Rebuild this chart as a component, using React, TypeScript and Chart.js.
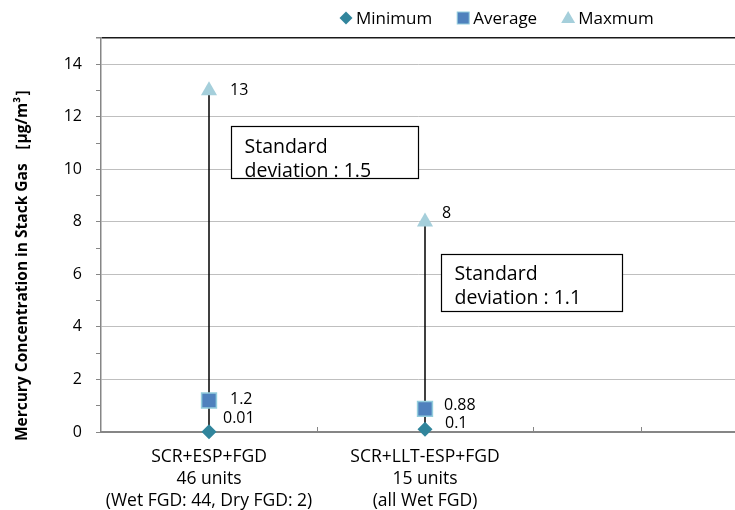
import React, { useEffect, useRef } from 'react';
import { Chart, registerables } from 'chart.js';

Chart.register(...registerables);

// ---- data ----
const categoryPositions = [1, 3];
const categoryLabels = [
  ['SCR+ESP+FGD', '46 units', '(Wet FGD: 44, Dry FGD: 2)'],
  ['SCR+LLT-ESP+FGD', '15 units', '(all Wet FGD)'],
];
const minimumValues = [0.01, 0.1];
const averageValues = [1.2, 0.88];
const maximumValues = [13, 8];
const stdDeviationValues = ['1.5', '1.1'];
const yTickLabels = [0, 2, 4, 6, 8, 10, 12, 14];
const seriesNames = ['Minimum', 'Average', 'Maxmum'];
const yTitle = 'Mercury Concentration in Stack Gas \uFF3B\u03BCg/m\u00B3\uFF3D';

// ---- style ----
const FONT = '"Open Sans", sans-serif';
const MIN_COLOR = '#31859C';
const AVG_COLOR = '#4F81BD';
const AVG_BORDER = '#93CDDD';
const MAX_COLOR = '#A5CFDB';
const AXIS_COLOR = '#868686';
const GRID_COLOR = '#BFBFBF';

// label offsets (px) for the value labels, per series and category
const labelOffsets = {
  max: [{ dx: 21, dy: 0 }, { dx: 17, dy: -8 }],
  avg: [{ dx: 21, dy: -1 }, { dx: 19, dy: -3 }],
  min: [{ dx: 14, dy: -13 }, { dx: 20, dy: -6 }],
};
// std-dev box extents in data units
const boxExtents = [
  { x0: 1.2, x1: 2.935, y0: 11.64, y1: 9.66, t1: 21, t2: 45 },
  { x0: 3.148, x1: 4.824, y0: 6.76, y1: 4.62, t1: 20, t2: 44 },
];

const overlayPlugin = {
  id: 'overlay',
  beforeDatasetsDraw(chart: any) {
    const { ctx, scales } = chart;
    const x = scales.x;
    const y = scales.y;
    ctx.save();
    // x tick marks pointing up
    ctx.strokeStyle = AXIS_COLOR;
    ctx.lineWidth = 1;
    for (let v = 1; v <= Math.floor(x.max); v++) {
      const px = Math.round(x.getPixelForValue(v)) + 0.5;
      ctx.beginPath();
      ctx.moveTo(px, y.bottom);
      ctx.lineTo(px, y.bottom - 5);
      ctx.stroke();
    }
    // std deviation boxes
    boxExtents.forEach((b, i) => {
      const l = Math.round(x.getPixelForValue(b.x0)) + 0.5;
      const r = Math.round(x.getPixelForValue(b.x1)) + 0.5;
      const t = Math.round(y.getPixelForValue(b.y0)) + 0.5;
      const bt = Math.round(y.getPixelForValue(b.y1)) + 0.5;
      ctx.fillStyle = '#fff';
      ctx.fillRect(l, t, r - l, bt - t);
      ctx.fillStyle = '#000';
      ctx.font = `19.5px ${FONT}`;
      ctx.textAlign = 'left';
      ctx.textBaseline = 'middle';
      ctx.fillText('Standard', l + 13, t + b.t1);
      ctx.fillText('deviation : ' + stdDeviationValues[i], l + 13, t + b.t2);
      ctx.strokeStyle = '#000';
      ctx.lineWidth = 1.2;
      ctx.strokeRect(l, t, r - l, bt - t);
    });
    ctx.restore();
  },
  afterDatasetsDraw(chart: any) {
    const { ctx, scales } = chart;
    const x = scales.x;
    const y = scales.y;
    ctx.save();
    ctx.font = `16px ${FONT}`;
    ctx.fillStyle = '#000';
    ctx.textAlign = 'left';
    ctx.textBaseline = 'middle';
    const groups: [number[], { dx: number; dy: number }[]][] = [
      [maximumValues, labelOffsets.max],
      [averageValues, labelOffsets.avg],
      [minimumValues, labelOffsets.min],
    ];
    groups.forEach(([vals, offs]) => {
      vals.forEach((v, i) => {
        const px = x.getPixelForValue(categoryPositions[i]);
        const py = y.getPixelForValue(v);
        ctx.fillText(String(v), px + offs[i].dx, py + offs[i].dy);
      });
    });

    // y axis title
    ctx.save();
    ctx.translate(23, 261);
    ctx.rotate(-Math.PI / 2);
    ctx.textAlign = 'center';
    ctx.textBaseline = 'middle';
    ctx.font = `bold 15.5px ${FONT}`;
    ctx.fillText(yTitle, 0, 0);
    ctx.restore();

    // legend
    const ly = 18;
    let lx = 339;
    ctx.font = `17px ${FONT}`;
    seriesNames.forEach((name, i) => {
      const cx = lx + 7;
      ctx.beginPath();
      if (i === 0) {
        ctx.fillStyle = MIN_COLOR;
        ctx.moveTo(cx, ly - 6.5);
        ctx.lineTo(cx + 6.5, ly);
        ctx.lineTo(cx, ly + 6.5);
        ctx.lineTo(cx - 6.5, ly);
        ctx.closePath();
        ctx.fill();
      } else if (i === 1) {
        ctx.fillStyle = AVG_COLOR;
        ctx.fillRect(cx - 6, ly - 6, 12, 12);
        ctx.strokeStyle = AVG_BORDER;
        ctx.lineWidth = 1;
        ctx.strokeRect(cx - 6, ly - 6, 12, 12);
      } else {
        ctx.fillStyle = MAX_COLOR;
        ctx.moveTo(cx, ly - 7);
        ctx.lineTo(cx + 7, ly + 5);
        ctx.lineTo(cx - 7, ly + 5);
        ctx.closePath();
        ctx.fill();
      }
      ctx.fillStyle = '#000';
      ctx.fillText(name, lx + 17, ly + 1);
      lx += 17 + ctx.measureText(name).width + 24;
    });
    ctx.restore();
  },
};

export default function App() {
  const canvasRef = useRef<HTMLCanvasElement | null>(null);

  useEffect(() => {
    const canvas = canvasRef.current;
    if (!canvas) return;

    const rangeLines = categoryPositions.map((pos, i) => ({
      type: 'line' as const,
      label: 'range' + i,
      data: [
        { x: pos, y: minimumValues[i] },
        { x: pos, y: maximumValues[i] },
      ],
      borderColor: '#000',
      borderWidth: 1.5,
      pointRadius: 0,
      order: 10,
      clip: false as any,
    }));

    const chart = new Chart(canvas, {
      type: 'scatter',
      data: {
        datasets: [
          ...rangeLines,
          {
            label: seriesNames[0],
            data: categoryPositions.map((p, i) => ({ x: p, y: minimumValues[i] })),
            pointStyle: 'rectRot',
            pointRadius: 7.5,
            backgroundColor: MIN_COLOR,
            borderColor: MIN_COLOR,
            borderWidth: 0,
            order: 1,
            clip: false as any,
          },
          {
            label: seriesNames[1],
            data: categoryPositions.map((p, i) => ({ x: p, y: averageValues[i] })),
            pointStyle: 'rect',
            pointRadius: 10.5,
            backgroundColor: AVG_COLOR,
            borderColor: AVG_BORDER,
            borderWidth: 1.5,
            order: 1,
            clip: false as any,
          },
          {
            label: seriesNames[2],
            data: categoryPositions.map((p, i) => ({ x: p, y: maximumValues[i] })),
            pointStyle: 'triangle',
            pointRadius: 9.3,
            backgroundColor: MAX_COLOR,
            borderColor: MAX_COLOR,
            borderWidth: 0,
            order: 1,
            clip: false as any,
          },
        ] as any,
      },
      options: {
        animation: false,
        responsive: false,
        maintainAspectRatio: false,
        layout: { autoPadding: false, padding: { top: 38, left: 0, right: 0, bottom: 0 } },
        plugins: {
          legend: { display: false },
          tooltip: { enabled: false },
        },
        scales: {
          x: {
            type: 'linear',
            min: 0,
            max: 634 / 108,
            afterFit: (s: any) => {
              s.height = 78;
              s.paddingLeft = 0;
              s.paddingRight = 0;
            },
            afterBuildTicks: (s: any) => {
              const t = [];
              for (let v = 0; v <= Math.floor(s.max); v++) t.push({ value: v });
              s.ticks = t;
            },
            grid: { display: false, drawTicks: false },
            border: { display: true, color: AXIS_COLOR, width: 2 },
            ticks: {
              autoSkip: false,
              maxRotation: 0,
              padding: 14,
              color: '#000',
              font: { family: FONT, size: 17.5, lineHeight: 1.25 },
              callback: (v: any) => {
                const i = categoryPositions.indexOf(Number(v));
                return i >= 0 ? categoryLabels[i] : '';
              },
            },
          },
          y: {
            type: 'linear',
            min: 0,
            max: 15,
            afterFit: (s: any) => {
              s.width = 101;
            },
            afterBuildTicks: (s: any) => {
              const t = [];
              for (let v = 0; v <= 15; v++) t.push({ value: v });
              s.ticks = t;
            },
            grid: {
              display: true,
              drawTicks: true,
              tickLength: 5,
              lineWidth: (c: any) => (c.tick && c.tick.value === 15 ? 1.5 : 1),
              color: (c: any) => {
                const v = c.tick ? c.tick.value : 0;
                if (v === 15) return '#1a1a1a';
                return yTickLabels.includes(v) ? GRID_COLOR : 'rgba(0,0,0,0)';
              },
              tickColor: AXIS_COLOR,
            },
            border: { display: true, color: AXIS_COLOR, width: 1.5 },
            ticks: {
              autoSkip: false,
              padding: 14,
              color: '#000',
              font: { family: FONT, size: 16 },
              callback: (v: any) => (yTickLabels.includes(Number(v)) ? String(v) : ''),
            },
          },
        },
      },
      plugins: [overlayPlugin],
    });

    return () => chart.destroy();
  }, []);

  return (
    <div style={{ position: 'fixed', left: 0, top: 0, width: 735, height: 510, background: '#fff' }}>
      <canvas ref={canvasRef} width={735} height={510} style={{ width: 735, height: 510, display: 'block' }} />
    </div>
  );
}
